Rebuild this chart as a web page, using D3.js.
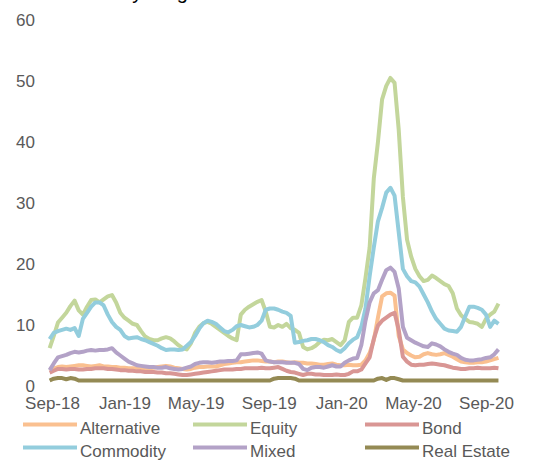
<!DOCTYPE html>
<html>
<head>
<meta charset="utf-8">
<script src="https://cdn.jsdelivr.net/npm/d3@7"></script>
<style>
html,body{margin:0;padding:0;background:#fff;}
svg{display:block;}
text{font-family:"Liberation Sans",Arial,sans-serif;}
</style>
</head>
<body>
<svg id="chart" width="535" height="462"></svg>
<script>
// ---- data (weekly observations starting 28 Aug 2018) ----
const titleText = "Volatility range";
const seriesNames = ["Alternative", "Equity", "Bond", "Commodity", "Mixed", "Real Estate"];
const seriesColors = ["#FAC090", "#C3D69B", "#D99694", "#93CDDD", "#B3A2C7", "#948A54"];
const xTickLabels = ["Sep-18", "Jan-19", "May-19", "Sep-19", "Jan-20", "May-20", "Sep-20"];
const yTicks = [0, 10, 20, 30, 40, 50, 60];
const firstDate = "2018-08-28";

const alternative = [2.8,2.9,3.1,3.2,3.1,3.2,3.3,3.4,3.4,3.3,3.2,3.3,3.4,3.2,3.2,3.1,3.1,3.0,3.0,2.9,
2.9,2.9,2.9,2.8,2.9,3.0,3.1,3.2,3.3,3.2,3.0,2.9,2.8,2.7,2.8,3.0,3.1,3.1,3.2,3.2,
3.2,3.4,3.6,3.7,3.8,3.9,3.9,4.0,4.1,4.2,4.2,4.1,4.0,4.0,3.9,4.0,4.0,3.9,3.8,3.9,
3.8,3.8,3.7,3.7,3.6,3.5,3.5,3.6,3.7,3.5,3.4,3.4,3.5,3.4,3.4,3.5,4.2,5.4,7.5,11.2,
14.7,15.2,15.3,14.8,8.2,6.0,5.4,5.0,4.7,4.8,5.2,5.4,5.2,5.1,5.2,5.4,5.1,4.8,4.4,4.0,
3.9,3.8,3.8,3.9,3.9,4.0,4.2,4.4,4.6];

const equity = [6.2,8.2,10.4,11.2,12.0,13.1,14.0,12.4,11.7,13.0,14.1,14.2,13.7,14.2,14.7,14.9,13.7,12.0,11.2,10.7,
10.2,10.0,9.0,8.1,7.7,7.5,7.5,7.8,8.0,7.8,7.3,6.7,6.2,6.0,7.0,8.7,9.7,10.3,10.5,10.2,
9.7,9.2,8.7,8.2,7.8,7.5,11.7,12.5,13.0,13.4,13.8,14.1,12.2,9.7,9.6,10.0,9.7,10.2,9.5,9.2,
8.7,6.4,6.0,6.2,6.6,7.2,7.6,7.5,7.7,7.2,6.7,7.5,10.5,11.2,11.2,13.2,17.7,22.7,34.0,40.0,
47.0,49.2,50.5,49.7,42.0,31.0,24.0,21.2,19.2,18.0,17.2,17.4,18.1,17.7,17.2,16.7,16.4,15.2,12.7,11.6,
11.0,10.5,10.4,10.2,9.7,11.0,11.7,12.2,13.5];

const bond = [2.2,2.5,2.8,2.8,2.7,2.8,2.8,2.7,2.7,2.8,2.8,2.9,2.9,2.9,2.8,2.8,2.7,2.6,2.6,2.5,
2.5,2.4,2.4,2.3,2.3,2.3,2.2,2.2,2.1,2.1,2.0,1.9,1.8,1.8,1.9,2.0,2.1,2.2,2.3,2.4,
2.5,2.6,2.7,2.7,2.7,2.8,2.8,2.9,2.9,2.9,2.9,3.0,2.9,2.9,3.0,3.1,2.8,2.5,2.3,2.2,
2.0,1.8,2.0,2.0,1.9,1.9,1.8,1.8,1.8,1.9,1.8,1.8,2.0,2.4,2.4,2.7,3.7,4.7,7.7,9.9,
10.7,11.2,11.7,12.0,9.2,4.8,4.0,3.5,3.4,3.5,3.5,3.6,3.7,3.6,3.5,3.4,3.2,3.0,2.9,2.8,
2.8,2.9,2.9,3.0,2.9,2.9,2.9,3.0,2.9];

const commodity = [7.7,8.7,9.0,9.2,9.4,9.2,9.5,8.2,11.0,12.0,13.0,13.7,13.7,13.2,11.7,10.5,9.7,9.2,8.2,7.8,
7.9,8.0,7.7,7.5,7.2,6.9,6.6,6.2,5.9,6.0,6.0,5.9,6.0,6.6,7.2,8.2,9.4,10.3,10.7,10.5,
10.2,9.6,9.0,8.8,9.2,9.8,10.0,9.8,9.6,9.7,10.0,10.7,12.5,12.7,12.7,12.5,12.2,12.0,11.5,7.1,
7.2,7.4,7.5,7.7,7.7,7.5,7.2,6.7,6.4,5.9,5.6,6.2,7.0,7.6,8.0,9.7,12.7,18.0,22.7,27.0,
29.2,31.7,32.5,31.2,25.2,19.2,18.0,17.2,17.0,16.3,15.0,13.7,12.2,11.0,10.2,9.4,9.1,9.0,8.9,9.7,
11.4,13.0,13.0,12.8,12.5,11.7,9.7,10.7,10.2];

const mixed = [2.6,3.7,4.7,4.9,5.1,5.4,5.6,5.5,5.6,5.8,5.9,5.8,5.9,5.9,6.0,6.2,5.5,5.0,4.5,4.0,
3.7,3.4,3.3,3.2,3.1,3.1,3.0,3.0,3.1,2.9,2.8,2.7,2.8,3.0,3.2,3.6,3.8,3.9,3.9,3.8,
3.9,4.0,4.0,4.1,4.1,4.2,5.2,5.2,5.3,5.4,5.5,5.3,4.2,4.0,3.9,3.9,3.9,3.8,3.8,3.8,
3.6,2.8,2.6,3.0,3.1,3.1,3.0,3.2,3.4,3.2,3.2,3.8,4.2,4.5,4.6,6.7,10.7,13.7,15.2,15.7,
17.4,19.0,19.4,18.7,16.0,9.7,7.9,7.5,7.1,6.8,6.5,6.4,7.0,6.8,6.5,6.0,5.6,5.3,5.1,4.6,
4.3,4.2,4.2,4.3,4.4,4.6,4.7,5.2,6.0];

const realEstate = [0.9,1.2,1.3,1.3,1.1,1.3,1.2,0.9,0.9,0.9,0.9,0.9,0.9,0.9,0.9,0.9,0.9,0.9,0.9,0.9,
0.9,0.9,0.9,0.9,0.9,0.9,0.9,0.9,0.9,0.9,0.9,0.9,0.9,0.9,0.9,0.9,0.9,0.9,0.9,0.9,
0.9,0.9,0.9,0.9,0.9,0.9,0.9,0.9,0.9,0.9,0.9,0.9,0.9,0.9,1.2,1.3,1.3,1.3,1.3,1.2,
0.9,0.9,0.9,0.9,0.9,0.9,0.9,0.9,0.9,0.9,0.9,0.9,0.9,0.9,0.9,0.9,0.9,0.9,0.9,1.2,
1.3,1.0,1.3,1.3,1.1,0.9,0.9,0.9,0.9,0.9,0.9,0.9,0.9,0.9,0.9,0.9,0.9,0.9,0.9,0.9,
0.9,0.9,0.9,0.9,0.9,0.9,0.9,0.9,0.9];

const seriesValues = [alternative, equity, bond, commodity, mixed, realEstate];

// ---- drawing ----
const svg = d3.select("#chart");
const textColor = "#595959";
const parseTick = d3.timeParse("%b-%y");
const start = d3.timeParse("%Y-%m-%d")(firstDate);
const dates = alternative.map((_, i) => d3.timeDay.offset(start, 7 * i));

const x = d3.scaleTime()
  .domain([parseTick("Sep-18"), parseTick("Sep-20")])
  .range([52, 486]);
const y = d3.scaleLinear().domain([0, 60]).range([386, 20]);

// cut-off title
svg.append("text")
  .attr("x", 69).attr("y", -1)
  .attr("font-size", 20).attr("fill", "#000")
  .text(titleText);

// y axis
const yAxis = svg.append("g")
  .attr("transform", "translate(35,0)")
  .call(d3.axisLeft(y).tickValues(yTicks).tickSize(0).tickPadding(0).tickFormat(d3.format("d")));
yAxis.select(".domain").remove();
yAxis.selectAll("text").attr("font-size", 17).attr("fill", textColor)
  .style("font-family", "'Liberation Sans', Arial, sans-serif");

// x axis
const xAxis = svg.append("g")
  .attr("transform", "translate(0,386)")
  .call(d3.axisBottom(x).tickValues(xTickLabels.map(parseTick)).tickSize(0).tickPadding(11)
    .tickFormat(d3.timeFormat("%b-%y")));
xAxis.select(".domain").remove();
xAxis.selectAll("text").attr("font-size", 17).attr("fill", textColor)
  .style("font-family", "'Liberation Sans', Arial, sans-serif");

// lines
const line = d3.line().x((d, i) => x(dates[i])).y(d => y(d));
seriesValues.forEach((vals, k) => {
  svg.append("path")
    .datum(vals)
    .attr("fill", "none")
    .attr("stroke", seriesColors[k])
    .attr("stroke-width", 4)
    .attr("stroke-linejoin", "round")
    .attr("stroke-linecap", "butt")
    .attr("d", line);
});

// legend
const legendCols = [23, 193, 365];
const legendRows = [424.5, 447.5];
seriesNames.forEach((name, k) => {
  const cx = legendCols[k % 3], cy = legendRows[Math.floor(k / 3)];
  const g = svg.append("g");
  g.append("line")
    .attr("x1", cx).attr("x2", cx + 54)
    .attr("y1", cy).attr("y2", cy)
    .attr("stroke", seriesColors[k]).attr("stroke-width", 4);
  g.append("text")
    .attr("x", cx + 57).attr("y", cy + 9)
    .attr("font-size", 17).attr("fill", textColor)
    .text(name);
});
</script>
</body>
</html>
